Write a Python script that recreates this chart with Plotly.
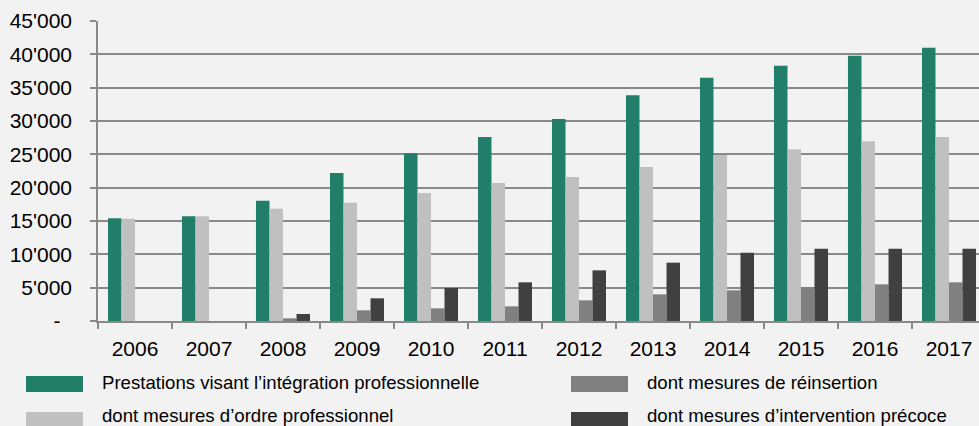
import plotly.graph_objects as go

years = ["2006", "2007", "2008", "2009", "2010", "2011", "2012", "2013", "2014", "2015", "2016", "2017"]
integration = [15400, 15700, 18050, 22200, 25150, 27600, 30300, 33850, 36500, 38300, 39800, 41000]
ordre_prof = [15350, 15700, 16850, 17750, 19200, 20700, 21600, 23100, 24900, 25750, 26950, 27600]
reinsertion = [None, None, 400, 1600, 1900, 2200, 3100, 4000, 4600, 5100, 5500, 5800]
intervention = [None, None, 1050, 3400, 4950, 5800, 7600, 8750, 10250, 10850, 10850, 10850]

names = [
    "Prestations visant l\u2019intégration professionnelle",
    "dont mesures d\u2019ordre professionnel",
    "dont mesures de réinsertion",
    "dont mesures d\u2019intervention précoce",
]
colors = ["#217f69", "#c0c0c0", "#808080", "#404040"]
series = [integration, ordre_prof, reinsertion, intervention]

tick_vals = [0, 5000, 10000, 15000, 20000, 25000, 30000, 35000, 40000, 45000]
tick_text = ["-\u00a0\u00a0", "5'000", "10'000", "15'000", "20'000", "25'000",
             "30'000", "35'000", "40'000", "45'000"]

W, H = 979, 426
ML, MR, MT, MB = 98, 0, 21, 105
PW = W - ML - MR
PH = H - MT - MB

FONT = "Liberation Sans, Arial, sans-serif"

fig = go.Figure()
for name, col, vals in zip(names, colors, series):
    fig.add_trace(go.Bar(x=years, y=vals, name=name, marker=dict(color=col, line=dict(width=0)),
                         showlegend=False))


def px_x(x):
    return (x - ML) / PW


def px_y(y):
    return 1 - (y - MT) / PH


# custom legend (layout items)
legend_pos = [(26, 384), (26, 420), (571, 384), (571, 420)]
text_dy = [-1.5, -4.5, -1.5, -4.5]
shapes = []
annotations = []
for name, col, (lx, ly), dy in zip(names, colors, legend_pos, text_dy):
    shapes.append(dict(type="rect", xref="paper", yref="paper",
                       x0=px_x(lx), x1=px_x(lx + 57), y0=px_y(ly - 8), y1=px_y(ly + 8),
                       fillcolor=col, line=dict(width=0)))
    annotations.append(dict(xref="paper", yref="paper", x=px_x(lx + 74), y=px_y(ly + dy),
                            xanchor="left", yanchor="middle", showarrow=False,
                            text=name, font=dict(family=FONT, size=18.6, color="#000000")))

fig.update_layout(
    width=W, height=H,
    margin=dict(l=ML, r=MR, t=MT, b=MB, pad=0),
    paper_bgcolor="#f2f2f2", plot_bgcolor="#f2f2f2",
    barmode="group", bargap=0.27, bargroupgap=0,
    font=dict(family=FONT, size=21, color="#000000"),
    shapes=shapes, annotations=annotations,
    showlegend=False,
)
fig.update_xaxes(
    type="category", range=[-0.5, -0.5 + PW / 74.0],
    showgrid=False, showline=True, linecolor="#898989", linewidth=1.5,
    ticks="outside", tickson="boundaries", ticklen=6, tickcolor="#898989", tickwidth=1.5,
    tickfont=dict(family=FONT, size=21, color="#000000"),
    ticklabelstandoff=8,
)
fig.update_yaxes(
    range=[0, 45000], tickvals=tick_vals, ticktext=tick_text,
    showgrid=True, gridcolor="#898989", gridwidth=1.5,
    showline=True, linecolor="#898989", linewidth=1.5,
    ticks="outside", ticklen=6, tickcolor="#898989", tickwidth=1.5,
    tickfont=dict(family=FONT, size=21, color="#000000"),
    ticklabelstandoff=14, zeroline=False,
)

fig.write_html(
    "out.html",
    config={"displayModeBar": False},
    post_script="document.body.style.margin='0';document.body.style.padding='0';"
                "document.body.style.overflow='hidden';document.body.style.background='#f2f2f2';",
)
